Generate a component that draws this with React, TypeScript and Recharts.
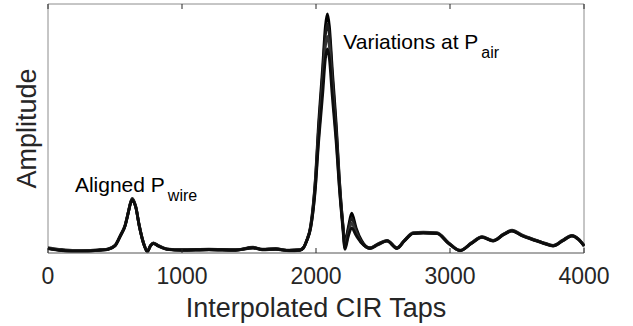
import React from 'react';
import { LineChart, Line, XAxis, YAxis, ReferenceArea, ReferenceDot, Label } from 'recharts';

// ---- data ----
const taps = [0, 100, 200, 300, 388, 450, 500, 540, 575, 600, 615, 629, 643, 655, 681, 719, 741, 765, 786, 820, 886, 1000, 1200, 1400, 1530, 1600, 1700, 1800, 1880, 1905, 1930, 1960, 1997, 2016, 2050, 2070, 2085, 2100, 2120, 2154, 2173, 2200, 2216, 2240, 2266, 2300, 2340, 2403, 2460, 2530, 2604, 2660, 2724, 2800, 2903, 2990, 3075, 3160, 3239, 3321, 3400, 3463, 3540, 3619, 3700, 3769, 3840, 3910, 3960, 4000];

const seriesA = [0.02, 0.012, 0.008, 0.008, 0.012, 0.016, 0.03, 0.07, 0.11, 0.165, 0.2, 0.217, 0.205, 0.185, 0.11, 0.03, 0.005, 0.03, 0.04, 0.03, 0.016, 0.012, 0.014, 0.012, 0.022, 0.014, 0.016, 0.01, 0.012, 0.02, 0.05, 0.11, 0.31, 0.49, 0.75, 0.91, 0.96, 0.91, 0.75, 0.49, 0.31, 0.12, 0.045, 0.1, 0.16, 0.1, 0.05, 0.02, 0.035, 0.05, 0.02, 0.05, 0.08, 0.082, 0.08, 0.04, 0.01, 0.04, 0.065, 0.05, 0.075, 0.09, 0.07, 0.055, 0.04, 0.03, 0.05, 0.07, 0.055, 0.03];
const seriesB = [0.018, 0.01, 0.006, 0.007, 0.011, 0.015, 0.028, 0.068, 0.108, 0.163, 0.197, 0.214, 0.202, 0.183, 0.108, 0.028, 0.006, 0.028, 0.038, 0.028, 0.015, 0.011, 0.013, 0.011, 0.02, 0.013, 0.015, 0.009, 0.011, 0.019, 0.048, 0.105, 0.3, 0.47, 0.72, 0.875, 0.92, 0.875, 0.72, 0.47, 0.3, 0.115, 0.03, 0.09, 0.14, 0.09, 0.045, 0.018, 0.032, 0.048, 0.018, 0.048, 0.078, 0.08, 0.078, 0.038, 0.009, 0.038, 0.063, 0.048, 0.073, 0.088, 0.068, 0.053, 0.038, 0.028, 0.048, 0.068, 0.053, 0.028];
const seriesC = [0.022, 0.014, 0.01, 0.01, 0.013, 0.017, 0.031, 0.071, 0.112, 0.167, 0.202, 0.219, 0.207, 0.187, 0.112, 0.031, 0.007, 0.031, 0.041, 0.031, 0.017, 0.013, 0.015, 0.013, 0.023, 0.015, 0.017, 0.011, 0.013, 0.021, 0.049, 0.1, 0.28, 0.44, 0.68, 0.83, 0.87, 0.83, 0.68, 0.44, 0.28, 0.11, 0.022, 0.075, 0.12, 0.08, 0.042, 0.02, 0.036, 0.051, 0.021, 0.051, 0.082, 0.084, 0.082, 0.041, 0.011, 0.041, 0.066, 0.051, 0.076, 0.092, 0.072, 0.056, 0.041, 0.031, 0.051, 0.071, 0.056, 0.031];
const seriesD = [0.019, 0.011, 0.007, 0.008, 0.012, 0.016, 0.029, 0.069, 0.109, 0.164, 0.198, 0.215, 0.203, 0.184, 0.109, 0.029, 0.006, 0.029, 0.039, 0.029, 0.016, 0.012, 0.014, 0.012, 0.021, 0.014, 0.016, 0.01, 0.012, 0.02, 0.047, 0.1, 0.27, 0.42, 0.64, 0.78, 0.82, 0.78, 0.64, 0.42, 0.27, 0.1, 0.015, 0.065, 0.1, 0.07, 0.04, 0.019, 0.034, 0.049, 0.019, 0.049, 0.079, 0.081, 0.079, 0.039, 0.01, 0.039, 0.064, 0.049, 0.074, 0.089, 0.069, 0.054, 0.039, 0.029, 0.049, 0.069, 0.054, 0.029];

const xTicks = [0, 1000, 2000, 3000, 4000];
const xLabel = 'Interpolated CIR Taps';
const yLabel = 'Amplitude';
const wireNote = { main: 'Aligned P', sub: 'wire', tap: 201, amp: 0.246 };
const airNote = { main: 'Variations at P', sub: 'air', tap: 2204, amp: 0.818 };

// ---- layout / style ----
const W = 633;
const H = 326;
const M_TOP = 4;
const M_RIGHT = 49;
const Y_W = 48;
const X_H = 73;
const TICK_LEN = 5;
const FONT = '"Liberation Sans", Arial, Helvetica, sans-serif';
const TEXT = '#262626';
const FRAME = '#8c8c8c';

const rows = taps.map((t, i) => ({ tap: t, a: seriesA[i], b: seriesB[i], c: seriesC[i], d: seriesD[i] }));

const XTick = (props: any) => {
  const { x, y, payload } = props;
  return (
    <g>
      <line x1={x} x2={x} y1={y} y2={y - TICK_LEN} stroke={TEXT} strokeWidth={1} />
      <line x1={x} x2={x} y1={M_TOP} y2={M_TOP + TICK_LEN} stroke={TEXT} strokeWidth={1} />
      <text x={x} y={y + 31} textAnchor="middle" fontSize={23} fontFamily={FONT} fill={TEXT}>
        {payload.value}
      </text>
    </g>
  );
};

const makeNote = (note: { main: string; sub: string }) => (props: any) => {
  const vb = props.viewBox || {};
  return (
    <text x={vb.x} y={vb.y} fontSize={21} fontFamily={FONT} fill="#000">
      {note.main}
      <tspan dx={3} dy={9} fontSize={16}>{note.sub}</tspan>
    </text>
  );
};

const lineColors = ['#000000', '#1c1c1c', '#333333', '#0d0d0d'];
const keys = ['a', 'b', 'c', 'd'];

export default function App() {
  return (
    <div style={{ position: 'absolute', left: 0, top: 0, background: '#fff' }}>
      <LineChart width={W} height={H} data={rows} margin={{ top: M_TOP, right: M_RIGHT, bottom: 0, left: 0 }}>
        <YAxis type="number" domain={[0, 1]} width={Y_W} tick={false} axisLine={false} tickLine={false}>
          <Label value={yLabel} angle={-90} position="center" dx={2} style={{ fontSize: 27, fill: TEXT, fontFamily: FONT }} />
        </YAxis>
        <XAxis
          dataKey="tap"
          type="number"
          domain={[0, 4000]}
          ticks={xTicks}
          interval={0}
          height={X_H}
          tickSize={0}
          tickMargin={0}
          tickLine={false}
          axisLine={{ stroke: FRAME }}
          tick={<XTick />}
        >
          <Label value={xLabel} position="insideBottom" offset={9} style={{ fontSize: 27, fill: TEXT, fontFamily: FONT }} />
        </XAxis>
        <ReferenceArea x1={0} x2={4000} y1={0} y2={1} fill="none" stroke={FRAME} strokeWidth={1} ifOverflow="visible" />
        {keys.map((k, i) => (
          <Line
            key={k}
            dataKey={k}
            type="monotone"
            stroke={lineColors[i]}
            strokeWidth={2.8}
            dot={false}
            activeDot={false}
            isAnimationActive={false}
          />
        ))}
        <ReferenceDot x={wireNote.tap} y={wireNote.amp} r={0.01} fill="none" stroke="none" ifOverflow="visible">
          <Label content={makeNote(wireNote)} />
        </ReferenceDot>
        <ReferenceDot x={airNote.tap} y={airNote.amp} r={0.01} fill="none" stroke="none" ifOverflow="visible">
          <Label content={makeNote(airNote)} />
        </ReferenceDot>
      </LineChart>
    </div>
  );
}
